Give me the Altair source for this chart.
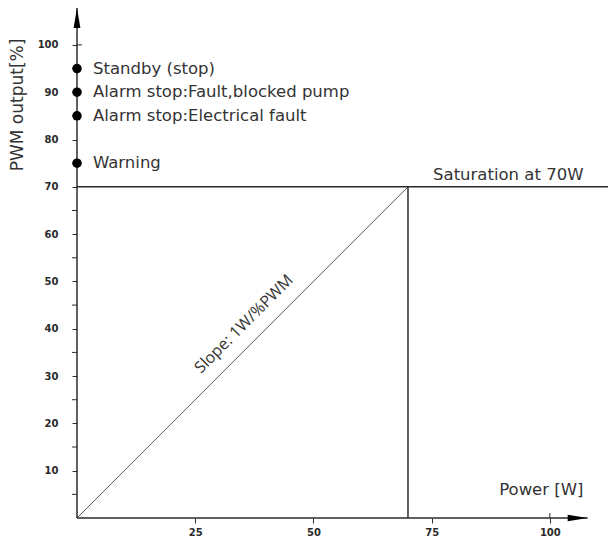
import altair as alt
import pandas as pd

# --- data ---
status_labels = ["Standby (stop)", "Alarm stop:Fault,blocked pump",
                 "Alarm stop:Electrical fault", "Warning"]
status_pwm = [95, 90, 85, 75]

x_ticks = [25, 50, 75, 100]
y_major_ticks = [10, 20, 30, 40, 50, 60, 70, 80, 90, 100]
y_minor_ticks = [5, 15, 25, 35, 45, 55, 65, 75, 85, 95]

slope_power = [0, 70]
slope_pwm = [0, 70]
saturation_power = 70
saturation_pwm = 70

x_max = 112.3
y_max = 107.8
x_arrow = 108.0

FONT = "DejaVu Sans"
DARK = "#2b2b2b"
TXT = "#333333"

xs = alt.Scale(domain=[0, x_max], nice=False, zero=False)
ys = alt.Scale(domain=[0, y_max], nice=False, zero=False)

x_axis = alt.Axis(values=x_ticks, domain=False, grid=False, tickSize=5, tickColor=DARK,
                  tickWidth=1, labelFontSize=10, labelFont=FONT, labelColor=DARK,
                  labelPadding=4, title=None, labelFontWeight="bold", labelOverlap=False)
y_axis = alt.Axis(values=y_major_ticks, domain=False, grid=False, tickSize=5, tickColor=DARK,
                  tickWidth=1, labelFontSize=10, labelFont=FONT, labelColor=DARK,
                  labelPadding=14, title=None, labelFontWeight="bold", labelOverlap=False)

# base invisible layer carrying the axes
axes_df = pd.DataFrame({"x": [0, x_max], "y": [0, y_max]})
base = alt.Chart(axes_df).mark_point(opacity=0).encode(
    x=alt.X("x:Q", scale=xs, axis=x_axis),
    y=alt.Y("y:Q", scale=ys, axis=y_axis),
)

# minor ticks on the y axis
minor = alt.Chart(pd.DataFrame({"y": y_minor_ticks})).mark_rule(
    color=DARK, strokeWidth=1).encode(
    x=alt.value(-5), x2=alt.value(0), y=alt.Y("y:Q", scale=ys))

# axis lines
xline = alt.Chart(pd.DataFrame({"x": [0], "x2": [x_arrow], "y": [0]})).mark_rule(
    color=DARK, strokeWidth=1.5).encode(
    x=alt.X("x:Q", scale=xs), x2="x2:Q", y=alt.Y("y:Q", scale=ys))
yline = alt.Chart(pd.DataFrame({"x": [0], "y": [0], "y2": [y_max]})).mark_rule(
    color=DARK, strokeWidth=1.5).encode(
    x=alt.X("x:Q", scale=xs), y=alt.Y("y:Q", scale=ys), y2="y2:Q")

# inner half of the ticks at 100 (they cross the axis)
xtick100 = alt.Chart(pd.DataFrame({"x": [100], "y": [0]})).mark_rule(
    color=DARK, strokeWidth=1).encode(
    x=alt.X("x:Q", scale=xs), y=alt.Y("y:Q", scale=ys), y2=alt.value(505))
ytick100 = alt.Chart(pd.DataFrame({"x": [0], "y": [100]})).mark_rule(
    color=DARK, strokeWidth=1).encode(
    x=alt.X("x:Q", scale=xs), x2=alt.value(5), y=alt.Y("y:Q", scale=ys))

# arrow heads
xarrow = alt.Chart(pd.DataFrame({"x": [x_arrow], "y": [0]})).mark_point(
    shape="M-2,-0.32L0,0L-2,0.32Z", size=400, filled=True, color="black", opacity=1).encode(
    x=alt.X("x:Q", scale=xs), y=alt.Y("y:Q", scale=ys))
yarrow = alt.Chart(pd.DataFrame({"x": [0], "y": [y_max]})).mark_point(
    shape="M-0.34,2L0,0L0.34,2Z", size=400, filled=True, color="black", opacity=1).encode(
    x=alt.X("x:Q", scale=xs), y=alt.Y("y:Q", scale=ys))

# slope line
slope = alt.Chart(pd.DataFrame({"x": slope_power, "y": slope_pwm})).mark_line(
    color="#555555", strokeWidth=1).encode(
    x=alt.X("x:Q", scale=xs), y=alt.Y("y:Q", scale=ys))

# saturation vertical and horizontal
vsat = alt.Chart(pd.DataFrame({"x": [saturation_power], "y": [0], "y2": [saturation_pwm]})).mark_rule(
    color=DARK, strokeWidth=1.5).encode(
    x=alt.X("x:Q", scale=xs), y=alt.Y("y:Q", scale=ys), y2="y2:Q")
hsat = alt.Chart(pd.DataFrame({"x": [0], "x2": [x_max], "y": [saturation_pwm]})).mark_rule(
    color=DARK, strokeWidth=1.5).encode(
    x=alt.X("x:Q", scale=xs), x2="x2:Q", y=alt.Y("y:Q", scale=ys))

# status dots and labels
status_df = pd.DataFrame({"x": [0] * len(status_pwm), "y": status_pwm, "label": status_labels})
dots = alt.Chart(status_df).mark_circle(size=90, color="black", opacity=1).encode(
    x=alt.X("x:Q", scale=xs), y=alt.Y("y:Q", scale=ys))
dot_text = alt.Chart(status_df).mark_text(
    align="left", baseline="middle", dx=16, fontSize=16.5, font=FONT, color=TXT).encode(
    x=alt.X("x:Q", scale=xs), y=alt.Y("y:Q", scale=ys), text="label:N")

# annotations
ann_df = pd.DataFrame({
    "x": [75.3, 98.2],
    "y": [saturation_pwm, 5.9],
    "label": ["Saturation at 70W", "Power [W]"],
})
sat_lbl = alt.Chart(ann_df.iloc[[0]]).mark_text(
    align="left", baseline="bottom", dy=-4, fontSize=16.5, font=FONT, color=TXT).encode(
    x=alt.X("x:Q", scale=xs), y=alt.Y("y:Q", scale=ys), text="label:N")
power_lbl = alt.Chart(ann_df.iloc[[1]]).mark_text(
    align="center", baseline="middle", fontSize=16.5, font=FONT, color=TXT).encode(
    x=alt.X("x:Q", scale=xs), y=alt.Y("y:Q", scale=ys), text="label:N")

slope_lbl = alt.Chart(pd.DataFrame({"x": [35.3], "y": [41.0], "label": ["Slope: 1W/%PWM"]})).mark_text(
    align="center", baseline="middle", angle=315, fontSize=16, font="Open Sans", color=TXT).encode(
    x=alt.X("x:Q", scale=xs), y=alt.Y("y:Q", scale=ys), text="label:N")

ytitle = alt.Chart(pd.DataFrame({"x": [-12.5], "y": [87.3], "label": ["PWM output[%]"]})).mark_text(
    align="center", baseline="middle", angle=270, fontSize=17, font=FONT, color=TXT).encode(
    x=alt.X("x:Q", scale=xs), y=alt.Y("y:Q", scale=ys), text="label:N")

chart = alt.layer(
    base, minor, slope, vsat, hsat, xline, yline, xtick100, ytick100, xarrow, yarrow, dots,
    dot_text, sat_lbl, power_lbl, slope_lbl, ytitle
).properties(
    width=531, height=510,
    autosize=alt.AutoSizeParams(type="none"),
    padding={"left": 69, "top": 0, "right": 0, "bottom": 19},
    background="white",
).configure_view(stroke=None)

chart.save("out.html", embed_options={"renderer": "svg", "actions": False})
